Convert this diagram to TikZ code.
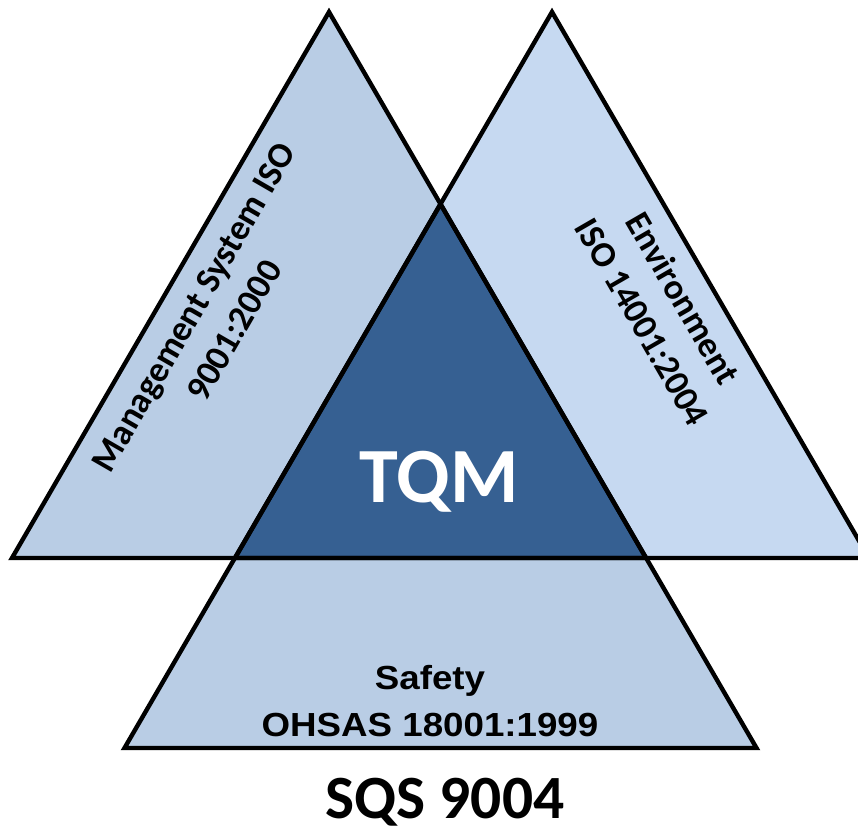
\documentclass[tikz,border=0pt]{standalone}
\usepackage{fontspec}
\setmainfont{Carlito}
\newfontfamily\arialfont{Liberation Sans}
\definecolor{mgmtblue}{HTML}{B9CDE5}
\definecolor{envblue}{HTML}{C6D9F1}
\definecolor{tqmblue}{HTML}{366092}
\tikzset{
    tri/.style={draw=black, line width=2.5pt},
    sidelabel/.style={font=\bfseries\fontsize{20.4}{26.6}\selectfont, align=center, inner sep=0pt},
}
\begin{document}
\begin{tikzpicture}[x=0.02cm, y=-0.02cm]
        \useasboundingbox (0,0) rectangle (858,828);
        \clip (0,0) rectangle (858,828);

        % corners of the three triangles
        \coordinate (mtop) at (329,12);
        \coordinate (mleft) at (12,558);
        \coordinate (mright) at (646,558);

        \coordinate (etop) at (552,12);
        \coordinate (eleft) at (235,558);
        \coordinate (eright) at (869,558);

        \coordinate (stop) at (intersection of mtop--mright and etop--eleft);
        \coordinate (sleft) at (124.5,748);
        \coordinate (sright) at (756.5,748);

        \fill[mgmtblue] (stop) -- (sleft) -- (sright) -- cycle;
        \fill[mgmtblue] (mtop) -- (mleft) -- (mright) -- cycle;
        \fill[envblue] (etop) -- (eleft) -- (eright) -- cycle;
        \fill[tqmblue] (stop) -- (eleft) -- (mright) -- cycle;

        \draw[tri] (stop) -- (sleft) -- (sright) -- cycle;
        \draw[tri] (mtop) -- (mleft) -- (mright) -- cycle;
        \draw[tri] (etop) -- (eleft) -- (eright) -- cycle;

        \node[sidelabel, rotate=60] (mgmt) at (214,319) {Management System ISO\\9001:2000};
        \node[sidelabel, rotate=-60] (env) at (663,310) {Environment\\ISO 14001:2004};
        \node[align=center, inner sep=0pt, xscale=1.1, font=\arialfont\bfseries\fontsize{19}{27}\selectfont] (safety) at (430,701) {Safety\\OHSAS 18001:1999};

        \node[text=white, inner sep=0pt, font=\bfseries\fontsize{44.5}{50}\selectfont] (tqm) at (439,482) {TQM};
        \node[inner sep=0pt, font=\bfseries\fontsize{35}{40}\selectfont] (sqs) at (445,802) {SQS 9004};
    \end{tikzpicture}
\end{document}
